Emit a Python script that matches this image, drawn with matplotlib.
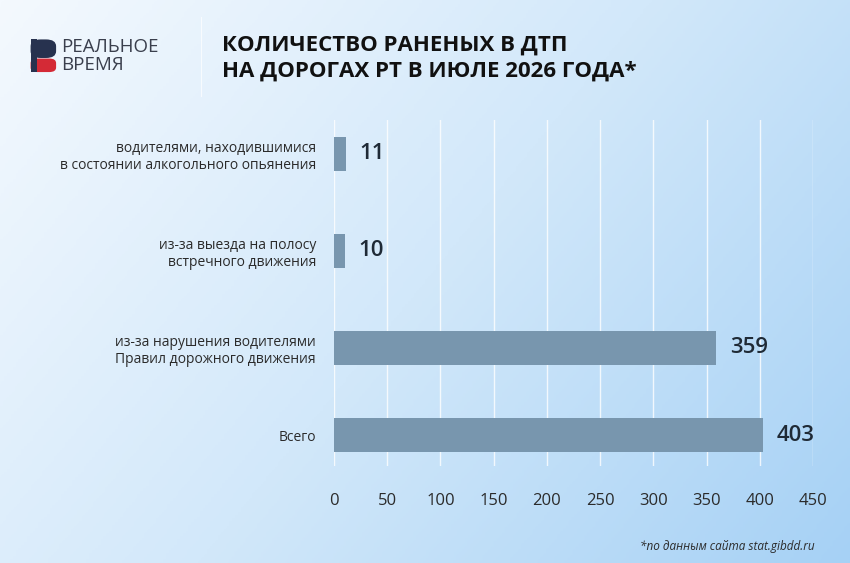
import numpy as np
import matplotlib
matplotlib.use("Agg")
import matplotlib.pyplot as plt
from matplotlib.colors import LinearSegmentedColormap
from matplotlib.patches import FancyBboxPatch, Rectangle

# data
categories = [
    "Всего",
    "из-за нарушения водителями\nПравил дорожного движения",
    "из-за выезда на полосу\nвстречного движения",
    "водителями, находившимися\nв состоянии алкогольного опьянения",
]
values = [403, 359, 10, 11]
x_ticks = [0, 50, 100, 150, 200, 250, 300, 350, 400, 450]
title = "КОЛИЧЕСТВО РАНЕНЫХ В ДТП\nНА ДОРОГАХ РТ В ИЮЛЕ 2026 ГОДА*"
source = "*по данным сайта stat.gibdd.ru"

# layout
y_pos = [0, 0.9, 1.9, 2.9]
BAR_COLOR = "#7896ae"
TEXT_COLOR = "#2b2b2b"

plt.rcParams['font.family'] = ['Open Sans', 'DejaVu Sans']

fig = plt.figure(figsize=(8.5, 5.63), dpi=100)

# gradient background
bg = fig.add_axes([0, 0, 1, 1], zorder=-10)
xx, yy = np.meshgrid(np.linspace(0, 1, 300), np.linspace(0, 1, 200))
grad = 0.75 * xx + 0.4 * yy
cmap = LinearSegmentedColormap.from_list("bg", ["#f4f9fe", "#d2e8fa", "#a6d1f5"])
bg.imshow(grad, cmap=cmap, aspect="auto", extent=[0, 1, 0, 1], origin="upper")
bg.set_xlim(0, 1)
bg.set_ylim(0, 1)
bg.axis("off")

# logo
bg.add_patch(FancyBboxPatch((0.036, 0.897), 0.030, 0.033, boxstyle="round,pad=0,rounding_size=0.012",
                            fc="#27324f", ec="none"))
bg.add_patch(FancyBboxPatch((0.036, 0.872), 0.030, 0.024, boxstyle="round,pad=0,rounding_size=0.008",
                            fc="#d42a36", ec="none"))
bg.add_patch(Rectangle((0.036, 0.872), 0.008, 0.058, fc="#27324f", ec="none"))
bg.text(0.072, 0.917, "РЕАЛЬНОЕ", fontsize=13.5, color="#3a3f4d", va="center", ha="left")
bg.text(0.072, 0.884, "ВРЕМЯ", fontsize=13.5, color="#3a3f4d", va="center", ha="left")
bg.plot([0.237, 0.237], [0.83, 0.97], color="white", lw=0.8, alpha=0.7)

# title
bg.text(0.261, 0.897, title, fontsize=16, fontweight="bold", color="#111111",
        va="center", ha="left", linespacing=1.3)

ax = fig.add_axes([0.393, 0.172, 0.5635, 0.615])
ax.set_facecolor("none")
ax.barh(y_pos, values, height=0.35, color=BAR_COLOR, zorder=3)
for y, v in zip(y_pos, values):
    ax.text(v + 13, y, str(v), fontsize=16, fontweight="semibold", color="#1f2a36",
            va="center", ha="left", zorder=4)

ax.set_xlim(0, 450)
ax.set_ylim(-0.32, 3.25)
ax.set_xticks(x_ticks)
ax.set_yticks(y_pos)
ax.set_yticklabels(categories, fontsize=10, color=TEXT_COLOR, linespacing=1.2)
ax.tick_params(axis="x", labelsize=12, labelcolor=TEXT_COLOR, length=0, pad=19)
ax.tick_params(axis="y", length=0, pad=13)
ax.grid(axis="x", color="white", lw=1, alpha=0.8, zorder=0)
for s in ax.spines.values():
    s.set_visible(False)
for lbl in ax.get_yticklabels():
    lbl.set_horizontalalignment("right")

fig.text(0.958, 0.03, source, fontsize=8.5, style="italic", color=TEXT_COLOR,
         ha="right", va="center")

fig.savefig("out.png", dpi=100)
